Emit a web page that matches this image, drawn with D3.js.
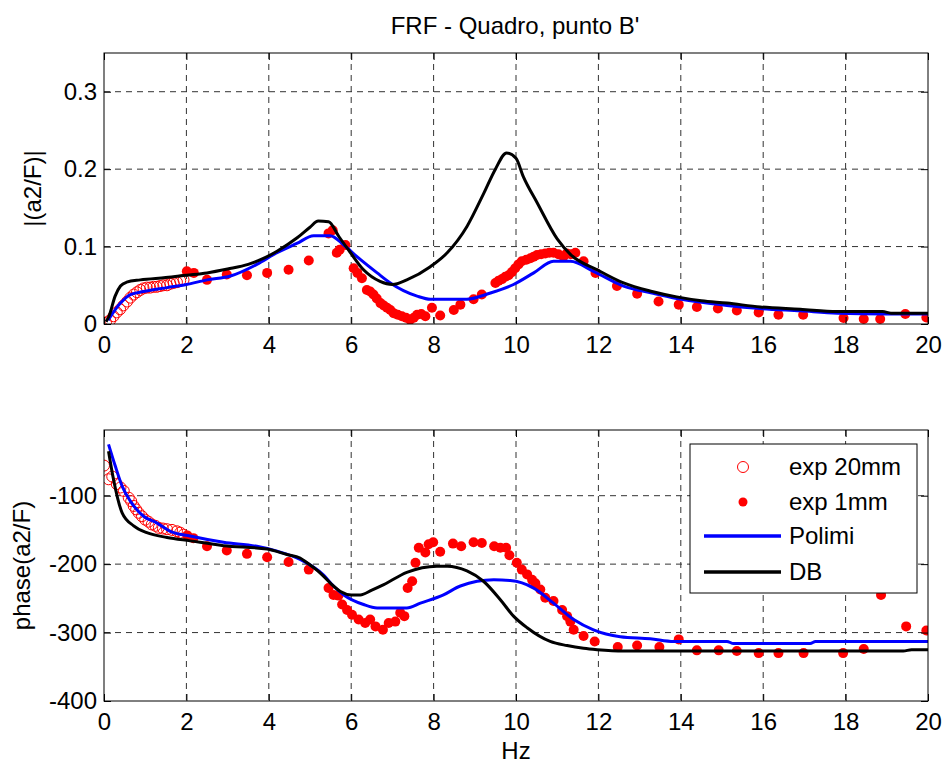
<!DOCTYPE html>
<html>
<head>
<meta charset="utf-8">
<script src="https://cdn.jsdelivr.net/npm/d3@7"></script>
<style>
  body { margin: 0; background: #fff; }
  svg { display: block; font-family: "Liberation Sans", Arial, sans-serif; }
</style>
</head>
<body>
<script>
// FRF - magnitude and phase [Hz, value]
const exp20Mag = [[0.05,0.002],[0.15,0.005],[0.23,0.010],[0.31,0.015],[0.39,0.019],[0.47,0.024],[0.56,0.029],[0.64,0.034],[0.72,0.038],[0.8,0.041],[0.88,0.044],[0.96,0.046],[1.04,0.047],[1.12,0.047],[1.2,0.048],[1.28,0.048],[1.36,0.049],[1.44,0.050],[1.53,0.050],[1.61,0.052],[1.69,0.053],[1.77,0.054],[1.85,0.056],[1.93,0.057]];
const exp1Mag = [[2.01,0.068],[2.18,0.066],[2.5,0.057],[2.98,0.064],[3.47,0.063],[3.96,0.066],[4.48,0.070],[4.97,0.082],[5.45,0.117],[5.55,0.121],[5.65,0.092],[5.72,0.096],[5.86,0.102],[6.06,0.072],[6.15,0.066],[6.26,0.059],[6.38,0.044],[6.46,0.042],[6.54,0.038],[6.62,0.033],[6.71,0.027],[6.79,0.024],[6.87,0.021],[6.95,0.018],[7.03,0.014],[7.13,0.012],[7.23,0.010],[7.33,0.008],[7.43,0.0055],[7.52,0.008],[7.6,0.012],[7.7,0.013],[7.8,0.010],[7.96,0.021],[8.16,0.011],[8.49,0.018],[8.65,0.025],[8.97,0.032],[9.17,0.038],[9.5,0.053],[9.58,0.056],[9.66,0.058],[9.74,0.061],[9.82,0.063],[9.9,0.067],[9.98,0.072],[10.06,0.077],[10.14,0.081],[10.25,0.083],[10.35,0.085],[10.43,0.087],[10.51,0.089],[10.61,0.090],[10.71,0.091],[10.81,0.092],[10.91,0.092],[11.03,0.090],[11.15,0.087],[11.23,0.091],[11.33,0.090],[11.44,0.092],[11.64,0.081],[11.93,0.066],[12.45,0.049],[12.94,0.039],[13.46,0.029],[13.95,0.025],[14.39,0.022],[14.9,0.020],[15.36,0.0175],[15.89,0.015],[16.37,0.012],[16.97,0.012],[17.95,0.0077],[18.44,0.0065],[18.84,0.0065],[19.45,0.013],[19.96,0.0085]];
const polimiMag = [[0.1,0.005],[0.4,0.027],[0.64,0.038],[0.96,0.042],[1.53,0.047],[2.0,0.051],[2.5,0.057],[3.07,0.062],[3.71,0.077],[4.2,0.092],[4.68,0.104],[5.09,0.114],[5.49,0.114],[5.82,0.102],[6.14,0.087],[6.63,0.066],[6.95,0.053],[7.6,0.036],[7.92,0.032],[8.81,0.032],[9.38,0.040],[9.94,0.051],[10.43,0.066],[10.91,0.081],[11.32,0.081],[11.88,0.068],[12.61,0.049],[13.3,0.040],[13.9,0.033],[14.5,0.028],[15.12,0.024],[15.93,0.020],[16.9,0.017],[17.8,0.014],[19.0,0.013],[20,0.013]];
const dbMag = [[0.05,0.003],[0.12,0.01],[0.27,0.036],[0.4,0.049],[0.55,0.054],[0.88,0.057],[1.5,0.060],[2.0,0.063],[2.5,0.066],[3.0,0.071],[3.5,0.077],[3.8,0.083],[4.2,0.094],[4.68,0.111],[5.0,0.125],[5.2,0.133],[5.45,0.132],[5.7,0.113],[5.97,0.093],[6.3,0.070],[6.7,0.055],[7.0,0.051],[7.35,0.057],[7.92,0.074],[8.33,0.092],[8.81,0.126],[9.22,0.169],[9.5,0.200],[9.77,0.221],[10.0,0.214],[10.18,0.190],[10.51,0.157],[11.0,0.110],[11.32,0.090],[11.97,0.070],[12.61,0.053],[13.3,0.042],[13.9,0.035],[14.5,0.030],[15.12,0.027],[15.93,0.022],[16.9,0.019],[17.79,0.016],[18.9,0.016],[19.1,0.014],[20,0.014]];

const exp20Phase = [[0.0,-56],[0.11,-76],[0.2,-72],[0.31,-83],[0.4,-88],[0.48,-93],[0.6,-103],[0.66,-108],[0.72,-115],[0.78,-120],[0.84,-125],[0.92,-130],[1.0,-135],[1.08,-138],[1.16,-142],[1.25,-144],[1.33,-147],[1.43,-148],[1.53,-149],[1.65,-150],[1.77,-152],[1.85,-154],[1.93,-157]];
const exp1Phase = [[2.02,-158],[2.17,-162],[2.5,-174],[2.98,-180],[3.47,-185],[3.96,-190],[4.48,-197],[4.97,-208],[5.45,-235],[5.57,-245],[5.69,-246],[5.78,-259],[5.9,-267],[6.02,-274],[6.18,-281],[6.34,-286],[6.46,-281],[6.59,-291],[6.77,-296],[6.91,-286],[7.07,-284],[7.19,-271],[7.29,-276],[7.37,-235],[7.48,-225],[7.56,-198],[7.64,-176],[7.8,-183],[7.88,-171],[7.99,-168],[8.16,-182],[8.47,-170],[8.67,-174],[8.97,-168],[9.17,-169],[9.47,-174],[9.62,-176],[9.76,-176],[9.84,-187],[10.02,-198],[10.14,-208],[10.27,-215],[10.39,-223],[10.47,-228],[10.59,-237],[10.71,-249],[10.91,-254],[11.12,-267],[11.24,-276],[11.32,-284],[11.4,-296],[11.64,-305],[11.91,-313],[12.47,-321],[12.94,-319],[13.48,-321],[13.95,-310],[14.39,-326],[14.92,-326],[15.36,-327],[15.89,-330],[16.37,-330],[16.98,-330],[17.94,-330],[18.44,-324],[18.86,-245],[19.47,-291],[19.96,-297]];
const polimiPhase = [[0.11,-25],[0.27,-56],[0.44,-86],[0.64,-108],[0.96,-130],[1.29,-140],[1.61,-152],[2.09,-159],[2.9,-168],[3.71,-174],[4.2,-181],[4.76,-193],[5.33,-216],[5.57,-232],[5.82,-245],[6.3,-259],[6.63,-264],[7.35,-264],[7.68,-257],[8.24,-245],[8.65,-232],[9.46,-223],[9.86,-224],[10.43,-235],[10.91,-257],[11.4,-281],[11.88,-296],[12.53,-306],[13.26,-309],[13.83,-313],[15.12,-313],[15.28,-316],[17.14,-316],[17.27,-313],[20,-313]];
const dbPhase = [[0.11,-35],[0.23,-76],[0.44,-125],[0.72,-144],[1.04,-154],[1.53,-161],[2.09,-166],[2.9,-173],[3.96,-178],[4.44,-186],[4.76,-191],[4.93,-198],[5.25,-213],[5.5,-228],[5.74,-240],[6.0,-245],[6.22,-245],[6.5,-238],[6.79,-230],[7.35,-212],[8.08,-203],[8.33,-203],[8.81,-210],[9.21,-225],[9.62,-252],[9.94,-276],[10.27,-293],[10.83,-313],[11.24,-319],[11.64,-323],[11.97,-325],[12.61,-327],[19.4,-327],[19.6,-325],[20,-325]];

const xTicks = [0, 2, 4, 6, 8, 10, 12, 14, 16, 18, 20];
const magTicks = [0, 0.1, 0.2, 0.3];
const phaseTicks = [-400, -300, -200, -100];
const legendLabels = ['exp 20mm', 'exp 1mm', 'Polimi', 'DB'];

const width = 942;
const height = 765;
const left = 104;
const right = 928;
const fontSize = 24;

const svg = d3.select('body').append('svg')
  .attr('width', width)
  .attr('height', height);

const x = d3.scaleLinear().domain([0, 20]).range([left, right]);

function drawPanel(id, top, bottom, yDomain, yTicks, yFmt, series, yLabel, labelX) {
  const y = d3.scaleLinear().domain(yDomain).range([bottom, top]);
  const g = svg.append('g');

  // grid
  const grid = g.append('g')
    .attr('stroke', '#333')
    .attr('stroke-width', 1)
    .attr('stroke-dasharray', '6,5');
  grid.selectAll('.vg')
    .data(xTicks.filter((d) => d > 0 && d < 20))
    .enter().append('line')
    .attr('x1', (d) => x(d)).attr('x2', (d) => x(d))
    .attr('y1', top).attr('y2', bottom);
  grid.selectAll('.hg')
    .data(yTicks.filter((d) => y(d) > top + 1 && y(d) < bottom - 1))
    .enter().append('line')
    .attr('x1', left).attr('x2', right)
    .attr('y1', (d) => y(d)).attr('y2', (d) => y(d));

  g.append('clipPath').attr('id', id)
    .append('rect')
    .attr('x', left).attr('y', top)
    .attr('width', right - left).attr('height', bottom - top);

  const plot = g.append('g').attr('clip-path', `url(#${id})`);
  const line = d3.line()
    .x((d) => x(d[0]))
    .y((d) => y(d[1]))
    .curve(d3.curveMonotoneX);

  plot.selectAll('.open')
    .data(series.open)
    .enter().append('circle')
    .attr('cx', (d) => x(d[0])).attr('cy', (d) => y(d[1]))
    .attr('r', 5.5)
    .attr('fill', 'none')
    .attr('stroke', '#ff0000')
    .attr('stroke-width', 1);

  plot.selectAll('.dot')
    .data(series.filled)
    .enter().append('circle')
    .attr('cx', (d) => x(d[0])).attr('cy', (d) => y(d[1]))
    .attr('r', 5)
    .attr('fill', '#ff0000');

  plot.append('path').datum(series.polimi)
    .attr('d', line)
    .attr('fill', 'none').attr('stroke', '#0000ff').attr('stroke-width', 3);
  plot.append('path').datum(series.db)
    .attr('d', line)
    .attr('fill', 'none').attr('stroke', '#000').attr('stroke-width', 3);

  // axes, ticks pointing inwards like matlab
  const xAxis = d3.axisBottom(x).tickValues(xTicks).tickSize(-7).tickPadding(12).tickFormat(d3.format('d'));
  const yAxis = d3.axisLeft(y).tickValues(yTicks).tickSize(-7).tickPadding(7).tickFormat(yFmt);
  g.append('g').attr('transform', `translate(0,${bottom})`).call(xAxis);
  g.append('g').attr('transform', `translate(${left},0)`).call(yAxis);
  g.append('g').attr('transform', `translate(0,${top})`)
    .call(d3.axisTop(x).tickValues(xTicks).tickSize(-7).tickFormat(''));
  g.append('g').attr('transform', `translate(${right},0)`)
    .call(d3.axisRight(y).tickValues(yTicks).tickSize(-7).tickFormat(''));
  g.selectAll('.domain').remove();
  g.selectAll('.tick line').attr('stroke', '#000');
  g.selectAll('.tick text')
    .attr('fill', '#000')
    .style('font-size', fontSize + 'px')
    .style('font-family', '"Liberation Sans", Arial, sans-serif');

  g.append('rect')
    .attr('x', left).attr('y', top)
    .attr('width', right - left).attr('height', bottom - top)
    .attr('fill', 'none').attr('stroke', '#000').attr('stroke-width', 1);

  g.append('text')
    .attr('transform', `translate(${labelX},${(top + bottom) / 2}) rotate(-90)`)
    .attr('text-anchor', 'middle')
    .style('font-size', fontSize + 'px')
    .text(yLabel);

  return y;
}

drawPanel('clipMag', 53, 324, [0, 0.35], magTicks, (d) => (d === 0 ? '0' : d3.format('.1f')(d)),
  { open: exp20Mag, filled: exp1Mag, polimi: polimiMag, db: dbMag }, '|(a2/F)|', 41);

drawPanel('clipPhase', 430, 701, [-400, -4], phaseTicks, (d) => String(d),
  { open: exp20Phase, filled: exp1Phase, polimi: polimiPhase, db: dbPhase }, 'phase(a2/F)', 30);

svg.append('text')
  .attr('x', 515).attr('y', 34)
  .attr('text-anchor', 'middle')
  .style('font-size', fontSize + 'px')
  .text("FRF - Quadro, punto B'");

svg.append('text')
  .attr('x', 516).attr('y', 759)
  .attr('text-anchor', 'middle')
  .style('font-size', fontSize + 'px')
  .text('Hz');

// legend
const legend = svg.append('g');
legend.append('rect')
  .attr('x', 690).attr('y', 444)
  .attr('width', 227).attr('height', 149)
  .attr('fill', '#fff').attr('stroke', '#000').attr('stroke-width', 1);

const rowY = [467, 502, 536, 572];
legend.selectAll('text')
  .data(legendLabels)
  .enter().append('text')
  .attr('x', 789)
  .attr('y', (d, i) => rowY[i])
  .attr('dy', '0.35em')
  .style('font-size', fontSize + 'px')
  .text((d) => d);

legend.append('circle').attr('cx', 743).attr('cy', rowY[0]).attr('r', 5.5)
  .attr('fill', 'none').attr('stroke', '#ff0000').attr('stroke-width', 1);
legend.append('circle').attr('cx', 743).attr('cy', rowY[1]).attr('r', 4.5)
  .attr('fill', '#ff0000');
legend.append('line').attr('x1', 704).attr('x2', 781).attr('y1', rowY[2]).attr('y2', rowY[2])
  .attr('stroke', '#0000ff').attr('stroke-width', 3.5);
legend.append('line').attr('x1', 704).attr('x2', 781).attr('y1', rowY[3]).attr('y2', rowY[3])
  .attr('stroke', '#000').attr('stroke-width', 3.5);
</script>
</body>
</html>
